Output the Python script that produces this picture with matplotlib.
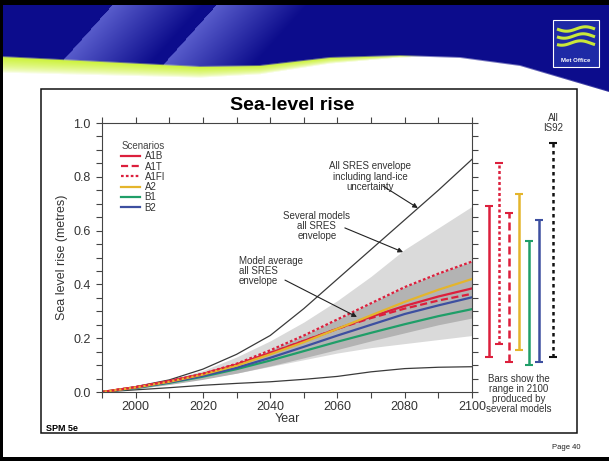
import matplotlib
matplotlib.use("Agg")
import matplotlib.pyplot as plt
import numpy as np
from matplotlib.patches import Rectangle
from matplotlib.lines import Line2D
from matplotlib.ticker import MultipleLocator, FormatStrFormatter

plt.rcParams['font.family'] = ['Liberation Sans', 'DejaVu Sans']

# --- data: sea-level rise (metres) relative to 1990 ---
years = [1990, 2000, 2010, 2020, 2030, 2040, 2050, 2060, 2070, 2080, 2090, 2100]

# all SRES envelope including land-ice uncertainty
ice_upper = [0.0, 0.02, 0.045, 0.085, 0.14, 0.21, 0.31, 0.42, 0.53, 0.64, 0.75, 0.865]
ice_lower = [0.0, 0.008, 0.016, 0.025, 0.032, 0.038, 0.047, 0.058, 0.075, 0.087, 0.092, 0.094]

# several models, all SRES envelope
models_upper = [0.0, 0.02, 0.045, 0.08, 0.13, 0.19, 0.26, 0.34, 0.43, 0.53, 0.61, 0.69]
models_lower = [0.0, 0.012, 0.03, 0.05, 0.07, 0.095, 0.12, 0.145, 0.165, 0.18, 0.195, 0.21]

# model average, all SRES envelope
average_upper = [0.0, 0.018, 0.04, 0.068, 0.105, 0.155, 0.21, 0.27, 0.33, 0.39, 0.44, 0.485]
average_lower = [0.0, 0.012, 0.028, 0.047, 0.07, 0.097, 0.127, 0.158, 0.19, 0.22, 0.25, 0.275]

# model-average curves per scenario
a1b = [0.0, 0.018, 0.04, 0.067, 0.102, 0.145, 0.19, 0.235, 0.28, 0.32, 0.355, 0.385]
a1t = [0.0, 0.018, 0.04, 0.067, 0.102, 0.145, 0.19, 0.235, 0.275, 0.31, 0.34, 0.365]
a1fi = [0.0, 0.018, 0.04, 0.068, 0.105, 0.155, 0.21, 0.27, 0.33, 0.39, 0.44, 0.485]
a2 = [0.0, 0.017, 0.038, 0.065, 0.098, 0.14, 0.185, 0.235, 0.285, 0.335, 0.38, 0.42]
b1 = [0.0, 0.015, 0.034, 0.057, 0.085, 0.117, 0.152, 0.187, 0.22, 0.252, 0.282, 0.308]
b2 = [0.0, 0.016, 0.036, 0.06, 0.09, 0.127, 0.168, 0.21, 0.25, 0.29, 0.322, 0.352]

# ranges in 2100 produced by several models
bar_names = ['A1B', 'A1FI', 'A1T', 'A2', 'B1', 'B2', 'IS92']
bar_low = [0.13, 0.18, 0.11, 0.155, 0.10, 0.11, 0.13]
bar_high = [0.69, 0.85, 0.665, 0.735, 0.56, 0.64, 0.925]

RED, GOLD, GREEN, BLUE = '#dc1f3c', '#e4b52c', '#1f9e68', '#3d4fa0'
styles = {
    'A1B': (RED, '-'),
    'A1T': (RED, (0, (3.2, 1.6))),
    'A1FI': (RED, (0, (1.2, 1.0))),
    'A2': (GOLD, '-'),
    'B1': (GREEN, '-'),
    'B2': (BLUE, '-'),
    'IS92': ('#111111', (0, (1.4, 1.4))),
}
series = {'A1B': a1b, 'A1T': a1t, 'A1FI': a1fi, 'A2': a2, 'B1': b1, 'B2': b2}

W, H = 609, 461
fig = plt.figure(figsize=(W / 100, H / 100), dpi=100)

# --- slide background ---
bg = fig.add_axes([0, 0, 1, 1], zorder=0)
bg.set_xlim(0, W)
bg.set_ylim(H, 0)
bg.axis('off')

hh = 110
yy, xx = np.mgrid[0:hh, 0:W] + 0.5
bottom = np.interp(xx[0], [0, 100, 200, 260, 330, 400, 460, 520, 609],
                   [57, 62, 67, 66, 58, 56, 58, 66, 92])
thick = np.interp(xx[0], [0, 200, 330, 430, 609], [16, 11, 6, 0, 0])
navy = np.array([0.05, 0.05, 0.55])
light = np.array([0.42, 0.44, 0.86])
u = xx + 0.9 * yy
s = np.zeros_like(u)
for u0 in (118, 222):
    d = u - u0
    s = np.maximum(s, np.where((d >= 0) & (d < 90), 1 - d / 90, 0))
blue = navy + (light - navy) * (0.8 * s)[..., None]
lime = np.array([0.80, 0.95, 0.22])
depth = yy - bottom
blue_w = np.clip(0.5 - depth, 0, 1)[..., None]
lime_w = (np.clip(depth + 0.5, 0, 1)
          * np.clip(1 - depth / np.maximum(thick, 1e-6), 0, 1) ** 0.6
          * (thick > 0))[..., None]
img = np.ones((hh, W, 3))
img = img * (1 - lime_w) + lime * lime_w
img = img * (1 - blue_w) + blue * blue_w
bg.imshow(img, extent=[0, W, hh, 0], aspect='auto', interpolation='bilinear')

bg.add_patch(Rectangle((0, 0), W, 5, color='black', lw=0))
bg.add_patch(Rectangle((0, 0), 3, H, color='black', lw=0))
bg.add_patch(Rectangle((0, 457), W, 4, color='black', lw=0))

# logo
bg.add_patch(Rectangle((553, 20), 46, 47, facecolor='#1e2aa6', edgecolor='white', lw=0.8))
wx = np.linspace(557, 595, 60)
for k, y0 in enumerate((29, 36, 43)):
    bg.plot(wx, y0 + 2.2 * np.sin((wx - 557) / 38 * 2 * np.pi + k * 0.4),
            color='#c9e83a', lw=2.2, solid_capstyle='butt')
bg.text(576, 61, 'Met Office', color='white', fontsize=4.3, fontweight='bold',
        ha='center', va='center')

# chart frame
bg.add_patch(Rectangle((41, 89), 536, 344, facecolor='white', edgecolor='#111111', lw=1.1))
bg.text(46, 428, 'SPM 5e', fontsize=6.5, fontweight='bold', ha='left', va='center')
bg.text(580, 447, 'Page 40', fontsize=5.5, ha='right', va='center', color='#222222')
fig.text(292 / W, 1 - 105 / H, 'Sea-level rise', fontsize=14, fontweight='bold',
         ha='center', va='center')

# --- main panel ---
ax = fig.add_axes([102 / W, 1 - 392 / H, 370 / W, 269 / H], zorder=2)
ax.patch.set_alpha(0)
ax.fill_between(years, models_lower, models_upper, color='#dadada', lw=0)
ax.fill_between(years, average_lower, average_upper, color='#b3b3b3', lw=0)
ax.plot(years, ice_upper, color='#3a3a3a', lw=0.9)
ax.plot(years, ice_lower, color='#3a3a3a', lw=0.9)
for name in ['B1', 'B2', 'A1T', 'A1B', 'A2', 'A1FI']:
    c, ls = styles[name]
    ax.plot(years, series[name], color=c, ls=ls, lw=1.6)

ax.set_xlim(1990, 2100)
ax.set_ylim(0, 1)
ax.xaxis.set_major_locator(MultipleLocator(20))
ax.xaxis.set_minor_locator(MultipleLocator(10))
ax.yaxis.set_major_locator(MultipleLocator(0.2))
ax.yaxis.set_minor_locator(MultipleLocator(0.05))
ax.yaxis.set_major_formatter(FormatStrFormatter('%.1f'))
ax.tick_params(which='both', direction='out', top=True, right=True, length=4,
               width=0.8, color='#444444', labelsize=9, labelcolor='#333333')
ax.tick_params(axis='x', pad=2.5)
ax.tick_params(axis='y', pad=4)
for sp in ax.spines.values():
    sp.set_color('#444444')
    sp.set_linewidth(0.8)
ax.set_xlabel('Year', fontsize=9, color='#333333')
ax.xaxis.set_label_coords(0.5, -0.078)
ax.set_ylabel('Sea level rise (metres)', fontsize=9, color='#333333')
ax.yaxis.set_label_coords(-0.093, 0.5)

handles = [Line2D([], [], color=styles[n][0], ls=styles[n][1], lw=1.6)
           for n in ['A1B', 'A1T', 'A1FI', 'A2', 'B1', 'B2']]
leg = ax.legend(handles, ['A1B', 'A1T', 'A1FI', 'A2', 'B1', 'B2'], title='Scenarios',
                loc='upper left', bbox_to_anchor=(0.052, 0.933), frameon=False,
                fontsize=7, title_fontsize=7, handlelength=1.9, handletextpad=0.5,
                labelspacing=0.03, borderpad=0, borderaxespad=0, alignment='left')
leg.get_title().set_color('#444444')
for t in leg.get_texts():
    t.set_color('#333333')

note = dict(fontsize=7, color='#333333', linespacing=1.05)
arrow = dict(arrowstyle='-|>', lw=0.8, color='#222222', mutation_scale=7,
             shrinkA=0, shrinkB=0)
ax.text(2069.7, 0.80, 'All SRES envelope\nincluding land-ice\nuncertainty',
        ha='center', va='center', multialignment='center', **note)
ax.annotate('', xy=(2083.9, 0.684), xytext=(2073.5, 0.766), arrowprops=arrow)
ax.text(2053.9, 0.617, 'Several models\nall SRES\nenvelope',
        ha='center', va='center', multialignment='center', **note)
ax.annotate('', xy=(2079.5, 0.52), xytext=(2062.2, 0.61), arrowprops=arrow)
ax.text(2030.7, 0.45, 'Model average\nall SRES\nenvelope',
        ha='left', va='center', multialignment='left', **note)
ax.annotate('', xy=(2065.8, 0.279), xytext=(2044.4, 0.416), arrowprops=arrow)

# --- 2100 range bars ---
axb = fig.add_axes([480 / W, 1 - 392 / H, 85 / W, 269 / H], zorder=2)
axb.set_xlim(-0.9, 7.6)
axb.set_ylim(0, 1)
axb.axis('off')
bar_x = [0, 1, 2, 3, 4, 5, 6.4]
for x, name, lo, hi in zip(bar_x, bar_names, bar_low, bar_high):
    c, ls = styles[name]
    axb.vlines(x, lo, hi, color=c, ls=ls, lw=1.8, clip_on=False)
    axb.hlines([lo, hi], x - 0.4, x + 0.4, color=c, lw=1.5, clip_on=False)
axb.text(6.4, 1.0, 'All\nIS92', ha='center', va='center', fontsize=7,
         color='#333333', linespacing=1.0)
axb.text(3.0, -0.007, 'Bars show the\nrange in 2100\nproduced by\nseveral models',
         ha='center', va='center', fontsize=7, color='#333333', linespacing=1.0)

fig.savefig('out.png', dpi=100)
